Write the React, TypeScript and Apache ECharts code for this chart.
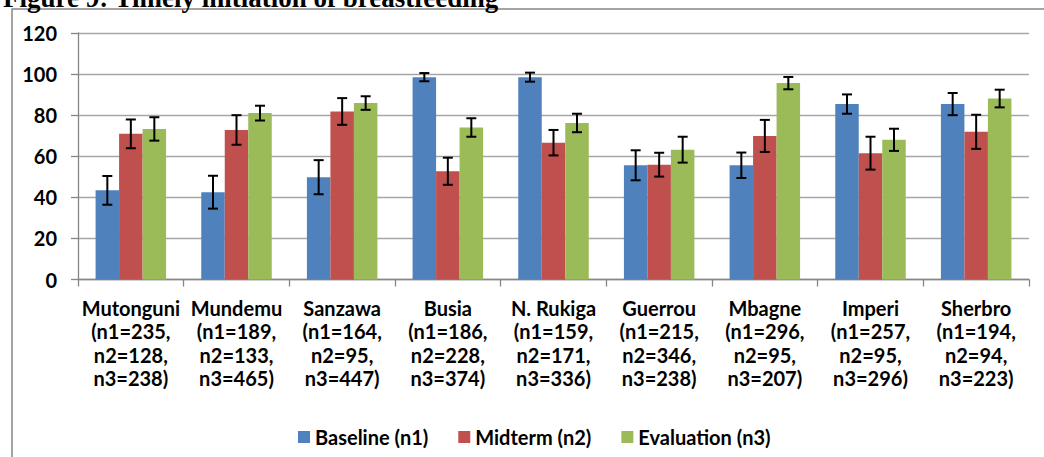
import React, { useEffect, useRef } from "react";
import * as echarts from "echarts";

const categories = [
  "Mutonguni\n(n1=235,\nn2=128,\nn3=238)",
  "Mundemu\n(n1=189,\nn2=133,\nn3=465)",
  "Sanzawa\n(n1=164,\nn2=95,\nn3=447)",
  "Busia\n(n1=186,\nn2=228,\nn3=374)",
  "N. Rukiga\n(n1=159,\nn2=171,\nn3=336)",
  "Guerrou\n(n1=215,\nn2=346,\nn3=238)",
  "Mbagne\n(n1=296,\nn2=95,\nn3=207)",
  "Imperi\n(n1=257,\nn2=95,\nn3=296)",
  "Sherbro\n(n1=194,\nn2=94,\nn3=223)",
];
const seriesNames = ["Baseline (n1)", "Midterm (n2)", "Evaluation (n3)"];
const baseline = [43.4, 42.5, 49.8, 98.5, 98.5, 55.6, 55.6, 85.4, 85.4];
const midterm = [70.9, 72.8, 81.8, 52.7, 66.6, 55.9, 69.9, 61.5, 71.9];
const evaluation = [73.3, 81.0, 85.9, 74.0, 76.2, 63.2, 95.6, 68.0, 88.1];
const baselineErr = [7.0, 8.0, 8.3, 2.0, 2.2, 7.3, 6.2, 4.7, 5.4];
const midtermErr = [7.0, 7.2, 6.5, 6.6, 6.2, 5.8, 7.8, 8.0, 8.3];
const evaluationErr = [5.7, 3.6, 3.3, 4.5, 4.5, 6.3, 3.0, 5.4, 4.3];
const yTicks = { min: 0, max: 120, interval: 20 };
const title = "Figure 9: Timely initiation of breastfeeding";

const colors = ["#4F81BD", "#C0504D", "#9BBB59"];
const FONT = "Lato";
const BAR_W = 23.5;

export default function App() {
  const ref = useRef<HTMLDivElement>(null);
  useEffect(() => {
    const chart = echarts.init(ref.current!, null, { renderer: "svg" });
    const values = [baseline, midterm, evaluation];
    const errs = [baselineErr, midtermErr, evaluationErr];
    const barSeries = values.map((v, i) => ({
      type: "bar",
      name: seriesNames[i],
      data: v,
      barWidth: BAR_W,
      barGap: "0%",
      itemStyle: { color: colors[i] },
      z: 2,
    }));
    const errSeries = values.map((v, i) => ({
      type: "custom",
      name: seriesNames[i] + " err",
      data: v.map((val, k) => [k, val, errs[i][k]]),
      encode: { x: 0, y: 1 },
      z: 5,
      silent: true,
      renderItem: (params: any, api: any) => {
        const cat = api.value(0);
        const val = api.value(1);
        const e = api.value(2);
        const off = (i - 1) * BAR_W;
        const top = api.coord([cat, val + e]);
        const bot = api.coord([cat, val - e]);
        const x = top[0] + off;
        const cap = 5;
        const style = { stroke: "#000", lineWidth: 2 };
        return {
          type: "group",
          children: [
            { type: "line", shape: { x1: x, y1: top[1], x2: x, y2: bot[1] }, style },
            { type: "line", shape: { x1: x - cap, y1: top[1], x2: x + cap, y2: top[1] }, style },
            { type: "line", shape: { x1: x - cap, y1: bot[1], x2: x + cap, y2: bot[1] }, style },
          ],
        };
      },
    }));
    chart.setOption({
      animation: false,
      backgroundColor: "#fff",
      graphic: [
        {
          type: "rect",
          shape: { x: 12, y: 9, width: 1040, height: 470 },
          style: { fill: "none", stroke: "#868686", lineWidth: 1.5 },
          z: -1,
          silent: true,
        },
        {
          type: "text",
          x: 3,
          y: 11,
          style: {
            text: title,
            font: "bold 27px 'Liberation Serif', 'Times New Roman', serif",
            fill: "#000",
            verticalAlign: "bottom",
          },
          z: 10,
        },
      ],
      legend: {
        data: seriesNames,
        left: 293,
        top: 422,
        itemWidth: 12,
        itemHeight: 12,
        itemGap: 30,
        icon: "rect",
        textStyle: { fontFamily: FONT, fontWeight: "bold", fontSize: 20, color: "#000" },
      },
      grid: { left: 78, right: 15, top: 33, bottom: 177.5 },
      xAxis: {
        type: "category",
        data: categories,
        axisLine: { lineStyle: { color: "#868686", width: 1.3 } },
        axisTick: { show: true, length: 7, lineStyle: { color: "#868686", width: 1.3 } },
        axisLabel: {
          interval: 0,
          color: "#000",
          fontFamily: FONT,
          fontWeight: "bold",
          fontSize: 20,
          lineHeight: 23.3,
          margin: 17,
        },
      },
      yAxis: {
        type: "value",
        min: yTicks.min,
        max: yTicks.max,
        interval: yTicks.interval,
        axisLine: { show: true, lineStyle: { color: "#868686", width: 1.3 } },
        axisTick: { show: true, length: 7, lineStyle: { color: "#868686", width: 1.3 } },
        splitLine: { lineStyle: { color: "#A6A6A6", width: 1.3 } },
        axisLabel: {
          color: "#000",
          fontFamily: FONT,
          fontWeight: "bold",
          fontSize: 20,
          margin: 21,
        },
      },
      series: [...barSeries, ...errSeries],
    });
    return () => chart.dispose();
  }, []);
  return (
    <div
      ref={ref}
      style={{ position: "absolute", left: 0, top: 0, width: 1044, height: 457 }}
    />
  );
}
